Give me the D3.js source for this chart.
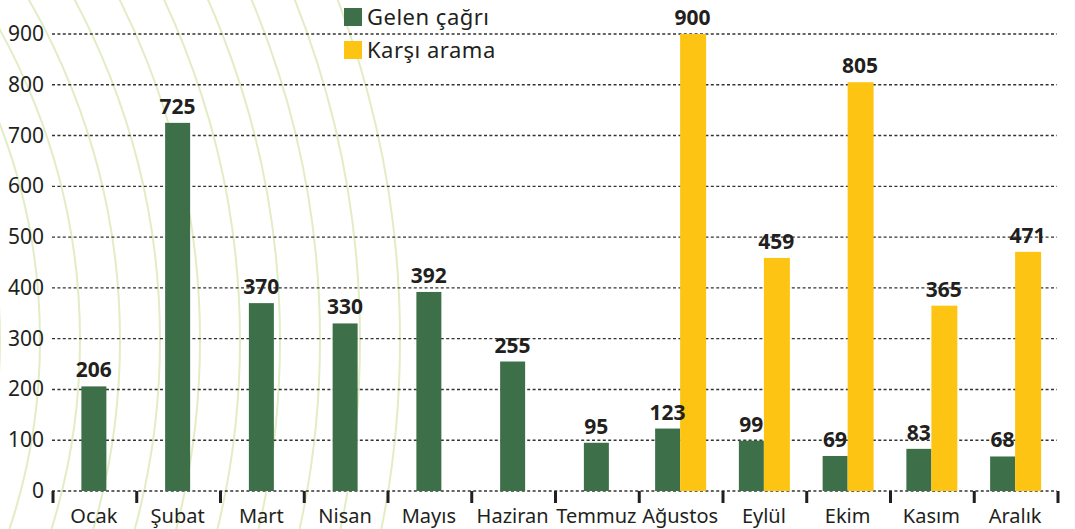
<!DOCTYPE html>
<html>
<head>
<meta charset="utf-8">
<script src="https://cdn.jsdelivr.net/npm/d3@7"></script>
<style>
  body { margin: 0; background: #fff; }
  svg { display: block; font-family: "Noto Sans", sans-serif; }
</style>
</head>
<body>
<div class="container"></div>
<script>
const months = ['Ocak', 'Şubat', 'Mart', 'Nisan', 'Mayıs', 'Haziran', 'Temmuz', 'Ağustos', 'Eylül', 'Ekim', 'Kasım', 'Aralık'],
    incoming = [206, 725, 370, 330, 392, 255, 95, 123, 99, 69, 83, 68],
    callback = [null, null, null, null, null, null, null, 900, 459, 805, 365, 471],
    yTicks = [0, 100, 200, 300, 400, 500, 600, 700, 800, 900],
    seriesNames = ['Gelen çağrı', 'Karşı arama'];

const width = 1075,
    height = 529,
    margin = {top: 34, right: 18, bottom: 38, left: 52},
    green = '#3d7049',
    yellow = '#fdc413',
    ink = '#231f20';

const svg = d3.select('.container')
    .append('svg')
    .attr('width', width)
    .attr('height', height);

// faint decorative arcs in the background
const arcs = svg.append('g');
for (let right = 400; right >= -40; right -= 40) {
    arcs.append('circle')
        .attr('cx', -560)
        .attr('cy', 340)
        .attr('r', right + 560)
        .attr('fill', 'none')
        .attr('stroke', '#e2edc6')
        .attr('stroke-width', 2);
}

const xScale = d3.scaleBand()
    .domain(months)
    .range([margin.left, width - margin.right]);

const yScale = d3.scaleLinear()
    .domain([0, 900])
    .range([height - margin.bottom, margin.top]);

// dotted grid
svg.append('g')
    .selectAll('line')
    .data(yTicks)
    .join('line')
    .attr('x1', margin.left)
    .attr('x2', width - margin.right)
    .attr('y1', d => yScale(d))
    .attr('y2', d => yScale(d))
    .attr('stroke', '#333')
    .attr('stroke-width', 1.4)
    .attr('stroke-dasharray', '3,2.4');

// y labels
svg.append('g')
    .selectAll('text')
    .data(yTicks)
    .join('text')
    .attr('x', 44)
    .attr('y', d => yScale(d) + 7)
    .attr('text-anchor', 'end')
    .attr('font-size', 21)
    .attr('fill', ink)
    .text(d => d);

// bottom tick marks between months
const edges = months.map(m => xScale(m)).concat([width - margin.right]);
svg.append('g')
    .selectAll('line')
    .data(edges)
    .join('line')
    .attr('x1', d => d + 1)
    .attr('x2', d => d + 1)
    .attr('y1', yScale(0))
    .attr('y2', yScale(0) + 12)
    .attr('stroke', ink)
    .attr('stroke-width', 3);

// month labels
svg.append('g')
    .selectAll('text')
    .data(months)
    .join('text')
    .attr('x', d => xScale(d) + xScale.bandwidth() / 2)
    .attr('y', 523)
    .attr('text-anchor', 'middle')
    .attr('font-size', 20)
    .attr('fill', ink)
    .text(d => d);

const barW = 25;
const rows = months.map((m, i) => ({month: m, a: incoming[i], b: callback[i]}));

const greenX = d => {
    const c = xScale(d.month) + xScale.bandwidth() / 2;
    return d.b == null ? c - barW / 2 : c - barW;
};
const yellowX = d => xScale(d.month) + xScale.bandwidth() / 2;

svg.append('g')
    .selectAll('rect')
    .data(rows)
    .join('rect')
    .attr('x', greenX)
    .attr('y', d => yScale(d.a))
    .attr('width', barW)
    .attr('height', d => yScale(0) - yScale(d.a))
    .attr('fill', green);

const withB = rows.filter(d => d.b != null);
svg.append('g')
    .selectAll('rect')
    .data(withB)
    .join('rect')
    .attr('x', yellowX)
    .attr('y', d => yScale(d.b))
    .attr('width', barW + 1)
    .attr('height', d => yScale(0) - yScale(d.b))
    .attr('fill', yellow);

// value labels
const labels = svg.append('g')
    .attr('font-size', 21)
    .attr('font-weight', 'bold')
    .attr('fill', ink)
    .attr('text-anchor', 'middle');

labels.selectAll('.la')
    .data(rows)
    .join('text')
    .attr('class', 'la')
    .attr('x', d => greenX(d) + barW / 2)
    .attr('y', d => yScale(d.a) - 9)
    .text(d => d.a);

labels.selectAll('.lb')
    .data(withB)
    .join('text')
    .attr('class', 'lb')
    .attr('x', d => yellowX(d) + barW / 2)
    .attr('y', d => yScale(d.b) - 9)
    .text(d => d.b);

// legend
const legend = svg.append('g')
    .selectAll('g')
    .data(seriesNames)
    .join('g')
    .attr('transform', (d, i) => `translate(344, ${8 + i * 33})`);

legend.append('rect')
    .attr('width', 18)
    .attr('height', 18)
    .attr('fill', (d, i) => i === 0 ? green : yellow);

legend.append('text')
    .attr('x', 23)
    .attr('y', 17)
    .attr('font-size', 22)
    .attr('letter-spacing', 0.5)
    .attr('fill', ink)
    .text(d => d);
</script>
</body>
</html>
